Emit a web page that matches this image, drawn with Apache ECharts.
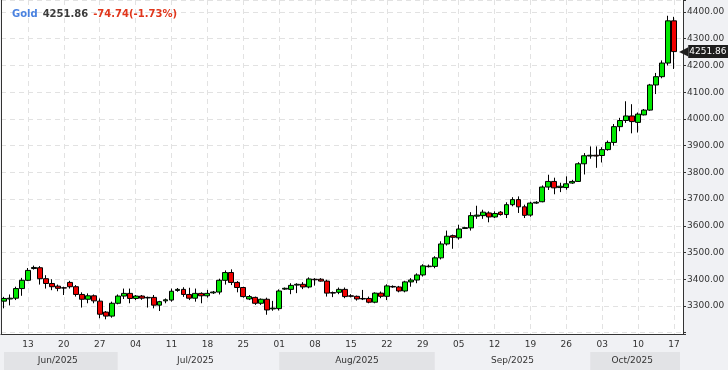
<!DOCTYPE html>
<html><head><meta charset="utf-8">
<script src="https://cdn.jsdelivr.net/npm/echarts@6/dist/echarts.min.js"></script>
<style>html,body{margin:0;padding:0;background:#f0f1f4}#c{width:728px;height:370px}</style>
</head><body><div id="c"></div>
<script>
const categories = [
'2025-06-09','2025-06-10','2025-06-11','2025-06-12','2025-06-13',
'2025-06-15','2025-06-16','2025-06-17','2025-06-18','2025-06-19','2025-06-20',
'2025-06-22','2025-06-23','2025-06-24','2025-06-25','2025-06-26','2025-06-27',
'2025-06-29','2025-06-30','2025-07-01','2025-07-02','2025-07-03','2025-07-04',
'2025-07-06','2025-07-07','2025-07-08','2025-07-09','2025-07-10','2025-07-11',
'2025-07-13','2025-07-14','2025-07-15','2025-07-16','2025-07-17','2025-07-18',
'2025-07-20','2025-07-21','2025-07-22','2025-07-23','2025-07-24','2025-07-25',
'2025-07-27','2025-07-28','2025-07-29','2025-07-30','2025-07-31','2025-08-01',
'2025-08-03','2025-08-04','2025-08-05','2025-08-06','2025-08-07','2025-08-08',
'2025-08-10','2025-08-11','2025-08-12','2025-08-13','2025-08-14','2025-08-15',
'2025-08-17','2025-08-18','2025-08-19','2025-08-20','2025-08-21','2025-08-22',
'2025-08-24','2025-08-25','2025-08-26','2025-08-27','2025-08-28','2025-08-29',
'2025-08-31','2025-09-01','2025-09-02','2025-09-03','2025-09-04','2025-09-05',
'2025-09-07','2025-09-08','2025-09-09','2025-09-10','2025-09-11','2025-09-12',
'2025-09-14','2025-09-15','2025-09-16','2025-09-17','2025-09-18','2025-09-19',
'2025-09-21','2025-09-22','2025-09-23','2025-09-24','2025-09-25','2025-09-26',
'2025-09-28','2025-09-29','2025-09-30','2025-10-01','2025-10-02','2025-10-03',
'2025-10-05','2025-10-06','2025-10-07','2025-10-08','2025-10-09','2025-10-10',
'2025-10-12','2025-10-13','2025-10-14','2025-10-15','2025-10-16','2025-10-17',
''];
const openValues = [
3318,3326,3329,3365,3396,
3440,3443,3402,3384,3374,3368,
3388,3372,3343,3325,3338,3318,
3277,3262,3310,3337,3347,3328,
3337,3330,3332,3303,3319,3322,
3358,3362,3343,3329,3347,3338,
3349,3352,3396,3425,3388,3369,
3326,3332,3310,3325,3289,3290,
3363,3362,3378,3381,3371,3400,
3400,3393,3350,3351,3362,3338,
3336,3328,3328,3314,3348,3336,
3373,3371,3356,3390,3397,3416,
3449,3448,3480,3532,3563,3555,
3590,3592,3636,3638,3648,3633,
3651,3642,3679,3698,3671,3640,
3685,3690,3745,3766,3743,3743,
3760,3766,3832,3861,3864,3863,
3885,3912,3971,3994,4011,3987,
4015,4033,4127,4158,4209,4367];
const closeValues = [
3328,3329,3365,3396,3433,
3444,3402,3384,3372,3366,3367,
3372,3343,3325,3338,3319,3269,
3262,3310,3337,3347,3328,3337,
3329,3332,3303,3316,3323,3355,
3362,3343,3329,3347,3338,3347,
3352,3396,3425,3388,3369,3335,
3335,3310,3325,3285,3292,3356,
3366,3377,3381,3371,3401,3398,
3393,3348,3348,3362,3335,3336,
3326,3326,3314,3348,3336,3375,
3371,3356,3390,3397,3416,3450,
3447,3480,3532,3561,3557,3588,
3593,3638,3640,3651,3633,3646,
3642,3679,3698,3671,3639,3685,
3688,3745,3766,3742,3748,3757,
3766,3832,3862,3864,3861,3885,
3912,3971,3994,4011,3990,4018,
4033,4127,4158,4209,4367,4251.86];
const lowValues = [
3291,3302,3322,3338,3393,
3436,3380,3365,3359,3355,3341,
3365,3335,3294,3310,3310,3254,
3250,3256,3306,3326,3310,3322,
3323,3294,3291,3281,3310,3316,
3353,3334,3322,3316,3310,3331,
3345,3343,3380,3378,3351,3331,
3322,3304,3304,3267,3282,3283,
3360,3344,3348,3363,3366,3376,
3391,3335,3333,3344,3329,3332,
3320,3322,3310,3310,3329,3322,
3368,3351,3351,3372,3385,3410,
3444,3441,3474,3526,3514,3548,
3588,3582,3626,3626,3613,3629,
3638,3629,3673,3648,3629,3634,
3682,3688,3734,3718,3726,3735,
3757,3764,3792,3851,3817,3837,
3881,3900,3954,3985,3946,3949,
4013,4030,4093,4152,4200,4187];
const highValues = [
3334,3343,3372,3405,3442,
3451,3449,3415,3400,3380,3372,
3394,3378,3351,3347,3343,3328,
3281,3316,3343,3365,3365,3341,
3341,3335,3341,3319,3328,3365,
3367,3370,3368,3365,3351,3360,
3356,3402,3433,3437,3393,3372,
3341,3335,3328,3331,3319,3362,
3369,3385,3385,3389,3407,3404,
3404,3398,3354,3369,3369,3344,
3339,3360,3335,3351,3354,3381,
3377,3375,3394,3404,3422,3456,
3455,3486,3542,3582,3567,3604,
3596,3651,3675,3660,3654,3654,
3655,3688,3707,3710,3679,3690,
3692,3751,3791,3780,3761,3785,
3772,3838,3872,3897,3897,3894,
3919,3981,4004,4066,4055,4024,
4037,4131,4172,4219,4386,4382];
const monthLabels = ['Jun/2025','Jul/2025','Aug/2025','Sep/2025','Oct/2025'];
const titleName = 'Gold';
const lastPrice = 4251.86;
const changeText = '-74.74(-1.73%)';

const FONT = 'DejaVu Sans';
const candleData = openValues.map((o, i) => [o, closeValues[i], lowValues[i], highValues[i]]);
const isFriday = (i) => categories[i] !== '' && new Date(categories[i] + 'T00:00:00Z').getUTCDay() === 5;
const monthStarts = [0];
for (let i = 1; i < categories.length; i++) {
  if (categories[i] && categories[i-1] && categories[i].slice(5,7) !== categories[i-1].slice(5,7)) monthStarts.push(i);
}
const lastIdx = categories.length - 1;
const boundaries = monthStarts.concat([lastIdx]);
const monthLabelIdx = [];
for (let k = 0; k < monthStarts.length; k++) monthLabelIdx.push(Math.floor((boundaries[k] + boundaries[k+1]) / 2));

const chart = echarts.init(document.getElementById('c'), null, {renderer: 'canvas'});
const gridLine = {color: '#e2e2e2', type: [5, 4], width: 1};
chart.setOption({
  animation: false,
  backgroundColor: '#f0f1f4',
  title: {
    text: '{a|' + titleName + '} {b|' + lastPrice.toFixed(2) + '} {c|' + changeText + '}',
    left: 7, top: 0,
    textStyle: {
      rich: {
        a: {fontFamily: FONT, fontWeight: 'bold', fontSize: 10, color: '#4a82e0'},
        b: {fontFamily: FONT, fontWeight: 'bold', fontSize: 10, color: '#3c3c3c'},
        c: {fontFamily: FONT, fontWeight: 'bold', fontSize: 10, color: '#e0361c'}
      }
    }
  },
  grid: [
    {left: 1, right: 45, top: 0, bottom: 36, show: true, backgroundColor: '#ffffff', borderWidth: 0},
    {left: 1, right: 45, top: 352, height: 18, show: false}
  ],
  xAxis: [
    {
      type: 'category', gridIndex: 0, data: categories, boundaryGap: true,
      axisLine: {show: true, lineStyle: {color: '#333', width: 1}},
      axisTick: {show: false},
      axisLabel: {interval: (i) => isFriday(i), formatter: (v) => v.slice(8), margin: 6,
        fontFamily: FONT, fontSize: 9, color: '#333'},
      splitLine: {show: true, interval: (i) => isFriday(i), alignWithLabel: true, lineStyle: gridLine}
    },
    {
      type: 'category', gridIndex: 1, data: categories, boundaryGap: true, position: 'top',
      axisLine: {show: false}, axisTick: {show: false},
      axisLabel: {inside: true, interval: (i) => monthLabelIdx.indexOf(i) >= 0,
        formatter: (v, i) => monthLabels[monthLabelIdx.indexOf(i)] || '',
        margin: 4, fontFamily: FONT, fontSize: 9, color: '#333'},
      splitLine: {show: false},
      splitArea: {show: true, interval: (i) => boundaries.indexOf(i) >= 0, alignWithLabel: true,
        areaStyle: {color: ['#e2e3e6', 'rgba(0,0,0,0)']}}
    }
  ],
  yAxis: [
    {
      type: 'value', gridIndex: 0, position: 'right', min: 3195, max: 4445, splitNumber: 12,
      axisLine: {show: true, lineStyle: {color: '#333', width: 1}},
      axisTick: {show: true, length: 3, lineStyle: {color: '#333'}},
      axisLabel: {margin: 4, fontFamily: FONT, fontSize: 9, color: '#333',
        formatter: (v) => (Math.abs(v % 100) < 1e-6 && v >= 3300 && v <= 4400) ? v.toFixed(2) : ''},
      splitLine: {show: true, lineStyle: gridLine}
    },
    {
      type: 'value', gridIndex: 0, position: 'left', min: 3195, max: 4445,
      axisLine: {show: true, lineStyle: {color: '#333', width: 1}},
      axisTick: {show: false}, axisLabel: {show: false}, splitLine: {show: false}
    },
    {type: 'value', gridIndex: 1, show: false, splitLine: {show: false}}
  ],
  series: [{
    type: 'candlestick', xAxisIndex: 0, yAxisIndex: 0,
    data: candleData,
    barWidth: 5.4,
    itemStyle: {color: '#00e800', color0: '#f00000', borderColor: '#000', borderColor0: '#000', borderColorDoji: '#000', borderWidth: 1},
    markLine: {
      silent: true, symbol: ['none', 'none'], animation: false,
      lineStyle: {color: 'rgba(0,0,0,0)', width: 1, type: 'solid'},
      data: [{yAxis: lastPrice}],
      label: {
        show: true, position: 'end', distance: -4, color: '#fff',
        formatter: () => '{a|\u25C0}{b|' + lastPrice.toFixed(2) + '}',
        rich: {
          a: {fontFamily: FONT, fontSize: 12, color: '#1e1e1e'},
          b: {fontFamily: FONT, fontSize: 9, color: '#ffffff', backgroundColor: '#1e1e1e', padding: [2, 2, 2, 1]}
        }
      }
    }
  }]
});
</script>
</body></html>
